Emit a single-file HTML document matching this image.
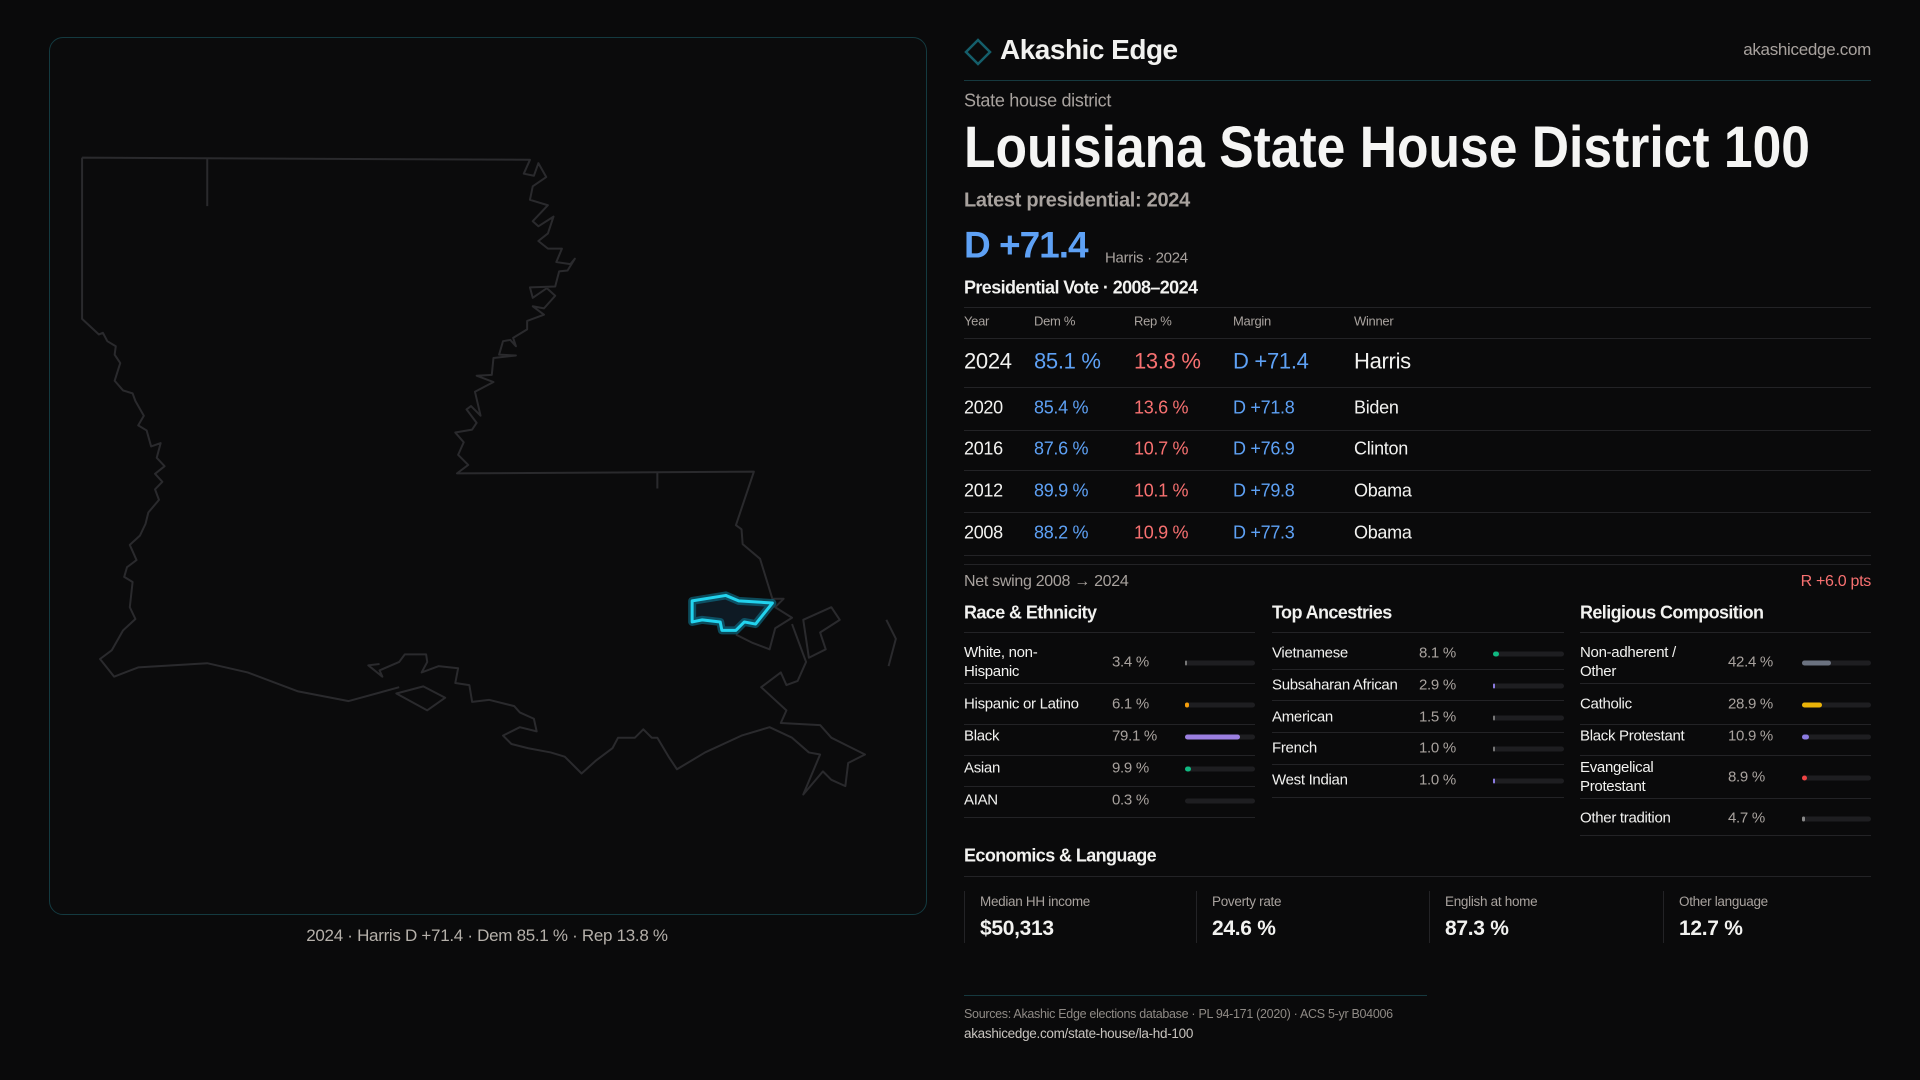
<!DOCTYPE html>
<html><head><meta charset="utf-8"><style>
*{margin:0;padding:0;box-sizing:border-box}
body{width:1920px;height:1080px;background:#0a0a0b;font-family:"Liberation Sans",sans-serif;color:#f2f2f0;position:relative;overflow:hidden}
.t{position:absolute;white-space:nowrap;transform:translateY(-50%);line-height:1.15;letter-spacing:-0.3px}
.l{position:absolute;height:1px;background:#232326}
.g{color:#a8a29e}.b{color:#5ea1f5}.r{color:#f87171}
.trk{position:absolute;height:5px;border-radius:3px;background:#1e1e21;transform:translateY(-50%)}
.trk i{position:absolute;left:0;top:0;height:5px;border-radius:3px;display:block}
.vb{position:absolute;width:1px;background:#232326;top:891px;height:52px}
</style></head><body>
<div style="position:absolute;left:49px;top:37px;width:878px;height:878px;border:1px solid #143a40;border-radius:14px;background:#0b0b0c"></div>
<svg style="position:absolute;left:40px;top:140px" width="880" height="660" viewBox="0 0 1568 1568" preserveAspectRatio="none">
<g fill="none" stroke="#2a2a2d" stroke-width="2" vector-effect="non-scaling-stroke" stroke-linejoin="round">
<path vector-effect="non-scaling-stroke" d="M298,45 L298,157 M1100,790 L1100,828"/>
<path vector-effect="non-scaling-stroke" d="M75,42 L873,47 L862,80 L880,85 L888,55 L902,88 L878,110 L873,142 L905,155 L878,193 L888,205 L915,182 L905,222 L888,240 L905,258 L930,258 L920,290 L945,295 L953,282 L940,310 L925,312 L918,348 L873,350 L878,375 L903,352 L918,370 L898,400 L878,395 L898,415 L868,430 L868,450 L843,470 L848,490 L838,475 L825,478 L818,510 L848,512 L808,518 L805,558 L778,560 L808,575 L775,598 L785,655 L768,632 L760,640 L778,672 L770,688 L740,695 L755,718 L745,748 L763,772 L743,792 L1272,788 L1240,915 L1250,925 L1252,960 L1283,995 L1305,1090 L1325,1090 L1310,1110 L1340,1135 L1310,1160 L1300,1210 L1270,1195 L1240,1175 M1340,1150 L1365,1240 L1350,1285 L1330,1295 L1320,1265 L1285,1300 L1330,1355 L1320,1385 L1390,1390 L1410,1420 L1440,1440 L1470,1460 L1440,1480 L1435,1535 L1410,1520 L1395,1500 L1360,1555 L1390,1460 L1370,1455 L1340,1420 L1300,1395 L1250,1415 L1185,1455 L1135,1495 L1120,1465 L1100,1420 L1090,1420 L1075,1400 L1060,1420 L1030,1420 L1020,1445 L990,1475 L965,1505 L935,1465 L910,1455 L870,1445 L840,1435 L825,1415 L855,1395 L885,1405 L880,1375 L855,1360 L845,1345 L800,1330 L770,1335 L765,1295 L740,1290 L745,1255 L710,1250 L680,1265 L690,1240 L688,1222 L650,1222 L640,1240 L605,1260 L610,1275 L585,1248 L605,1245 M640,1300 L550,1333 L460,1310 L370,1265 L298,1243 L175,1253 L132,1275 L107,1233 L128,1212 L148,1165 L170,1138 L160,1110 L165,1050 L150,1038 L155,1015 L172,998 L160,962 L178,940 L188,912 L193,885 L212,855 L205,830 L218,812 L205,793 L222,775 L208,755 L215,720 L198,728 L190,690 L175,678 L185,655 L170,620 L165,602 L148,595 L133,572 L143,530 L133,510 L135,490 L120,478 L112,458 L105,462 L75,425 L75,42"/>
<path vector-effect="non-scaling-stroke" d="M635,1315 L683,1298 L722,1325 L690,1355 Z M1360,1140 L1410,1110 L1425,1140 L1390,1170 L1400,1210 L1370,1230 Z M1508,1140 L1525,1185 L1512,1250"/>
</g>
<path vector-effect="non-scaling-stroke" d="M1162,1095 L1222,1082 L1245,1095 L1305,1100 L1275,1150 L1255,1145 L1240,1165 L1215,1165 L1212,1145 L1180,1140 L1162,1145 Z" fill="#0e1a24" stroke="#0e7490" stroke-opacity="0.6" stroke-width="8" stroke-linejoin="round"/>
<path vector-effect="non-scaling-stroke" d="M1162,1095 L1222,1082 L1245,1095 L1305,1100 L1275,1150 L1255,1145 L1240,1165 L1215,1165 L1212,1145 L1180,1140 L1162,1145 Z" fill="none" stroke="#22d3ee" stroke-width="3" stroke-linejoin="round"/>
</svg>
<div class="t g" style="left:487px;top:936px;transform:translate(-50%,-50%);font-size:17px;color:#b5b0aa">2024 · Harris D +71.4 · Dem 85.1 % · Rep 13.8 %</div>

<svg style="position:absolute;left:964px;top:38px" width="28" height="28" viewBox="0 0 28 28"><path d="M14,2 L26,14 L14,26 L2,14 Z" fill="none" stroke="#155e6b" stroke-width="2.5"/></svg>
<div class="t" style="left:1000px;top:50px;font-size:28px;font-weight:bold;letter-spacing:-0.5px">Akashic Edge</div>
<div class="t g" style="right:49px;top:50px;font-size:17px">akashicedge.com</div>
<div class="l" style="left:964px;width:907px;top:80px;background:#16393f"></div>
<div class="t g" style="left:964px;top:101px;font-size:18px">State house district</div>
<svg style="position:absolute;left:962px;top:112px" width="900" height="70"><text x="2" y="55" font-family="Liberation Sans" font-weight="bold" font-size="58" fill="#f5f5f4" textLength="846" lengthAdjust="spacingAndGlyphs">Louisiana State House District 100</text></svg>
<div class="t g" style="left:964px;top:201px;font-size:20px;font-weight:bold">Latest presidential: 2024</div>
<div class="t b" style="left:964px;top:246px;font-size:37px;font-weight:bold;letter-spacing:-1px">D +71.4</div>
<div class="t g" style="left:1105px;top:258px;font-size:15px">Harris · 2024</div>
<div class="t" style="left:964px;top:288px;font-size:18px;font-weight:bold;letter-spacing:-0.6px">Presidential Vote · 2008–2024</div>
<div class="l" style="left:964px;width:907px;top:307px"></div>
<div class="t g" style="left:964px;top:322px;font-size:13px">Year</div>
<div class="t g" style="left:1034px;top:322px;font-size:13px">Dem %</div>
<div class="t g" style="left:1134px;top:322px;font-size:13px">Rep %</div>
<div class="t g" style="left:1233px;top:322px;font-size:13px">Margin</div>
<div class="t g" style="left:1354px;top:322px;font-size:13px">Winner</div>
<div class="l" style="left:964px;width:907px;top:338px"></div>
<div class="t" style="left:964px;top:361px;font-size:22px">2024</div><div class="t b" style="left:1034px;top:361px;font-size:22px">85.1 %</div><div class="t r" style="left:1134px;top:361px;font-size:22px">13.8 %</div><div class="t b" style="left:1233px;top:361px;font-size:22px">D +71.4</div><div class="t" style="left:1354px;top:361px;font-size:22px">Harris</div>
<div class="l" style="left:964px;width:907px;top:387px"></div>
<div class="t" style="left:964px;top:408px;font-size:18px">2020</div><div class="t b" style="left:1034px;top:408px;font-size:18px">85.4 %</div><div class="t r" style="left:1134px;top:408px;font-size:18px">13.6 %</div><div class="t b" style="left:1233px;top:408px;font-size:18px">D +71.8</div><div class="t" style="left:1354px;top:408px;font-size:18px">Biden</div>
<div class="l" style="left:964px;width:907px;top:430px"></div>
<div class="t" style="left:964px;top:449px;font-size:18px">2016</div><div class="t b" style="left:1034px;top:449px;font-size:18px">87.6 %</div><div class="t r" style="left:1134px;top:449px;font-size:18px">10.7 %</div><div class="t b" style="left:1233px;top:449px;font-size:18px">D +76.9</div><div class="t" style="left:1354px;top:449px;font-size:18px">Clinton</div>
<div class="l" style="left:964px;width:907px;top:470px"></div>
<div class="t" style="left:964px;top:491px;font-size:18px">2012</div><div class="t b" style="left:1034px;top:491px;font-size:18px">89.9 %</div><div class="t r" style="left:1134px;top:491px;font-size:18px">10.1 %</div><div class="t b" style="left:1233px;top:491px;font-size:18px">D +79.8</div><div class="t" style="left:1354px;top:491px;font-size:18px">Obama</div>
<div class="l" style="left:964px;width:907px;top:512px"></div>
<div class="t" style="left:964px;top:533px;font-size:18px">2008</div><div class="t b" style="left:1034px;top:533px;font-size:18px">88.2 %</div><div class="t r" style="left:1134px;top:533px;font-size:18px">10.9 %</div><div class="t b" style="left:1233px;top:533px;font-size:18px">D +77.3</div><div class="t" style="left:1354px;top:533px;font-size:18px">Obama</div>
<div class="l" style="left:964px;width:907px;top:555px"></div>
<div class="l" style="left:964px;width:907px;top:564px"></div>
<div class="t g" style="left:964px;top:582px;font-size:16px">Net swing 2008 → 2024</div>
<div class="t r" style="right:49px;top:582px;font-size:16px">R +6.0 pts</div>

<div class="t" style="left:964px;top:613px;font-size:18px;font-weight:bold;letter-spacing:-0.6px">Race &amp; Ethnicity</div>
<div class="t" style="left:1272px;top:613px;font-size:18px;font-weight:bold;letter-spacing:-0.6px">Top Ancestries</div>
<div class="t" style="left:1580px;top:613px;font-size:18px;font-weight:bold;letter-spacing:-0.6px">Religious Composition</div>
<div class="l" style="left:964px;width:291px;top:632px"></div>
<div class="l" style="left:1272px;width:292px;top:632px"></div>
<div class="l" style="left:1580px;width:291px;top:632px"></div>

<div class="t" style="left:964px;top:662px;font-size:15px;line-height:19px">White, non-<br>Hispanic</div><div class="t g" style="left:1112px;top:662px;font-size:15px">3.4 %</div><div class="trk" style="left:1185px;width:70px;top:663px"><i style="width:2px;background:#777"></i></div>
<div class="l" style="left:964px;width:291px;top:683px"></div>
<div class="t" style="left:964px;top:704px;font-size:15px">Hispanic or Latino</div><div class="t g" style="left:1112px;top:704px;font-size:15px">6.1 %</div><div class="trk" style="left:1185px;width:70px;top:705px"><i style="width:4px;background:#f59e0b"></i></div>
<div class="l" style="left:964px;width:291px;top:724px"></div>
<div class="t" style="left:964px;top:736px;font-size:15px">Black</div><div class="t g" style="left:1112px;top:736px;font-size:15px">79.1 %</div><div class="trk" style="left:1185px;width:70px;top:737px"><i style="width:55px;background:#9b7fe0"></i></div>
<div class="l" style="left:964px;width:291px;top:755px"></div>
<div class="t" style="left:964px;top:768px;font-size:15px">Asian</div><div class="t g" style="left:1112px;top:768px;font-size:15px">9.9 %</div><div class="trk" style="left:1185px;width:70px;top:769px"><i style="width:6px;background:#10b981"></i></div>
<div class="l" style="left:964px;width:291px;top:786px"></div>
<div class="t" style="left:964px;top:800px;font-size:15px">AIAN</div><div class="t g" style="left:1112px;top:800px;font-size:15px">0.3 %</div><div class="trk" style="left:1185px;width:70px;top:801px"></div>
<div class="l" style="left:964px;width:291px;top:817px"></div>

<div class="t" style="left:1272px;top:653px;font-size:15px">Vietnamese</div><div class="t g" style="left:1419px;top:653px;font-size:15px">8.1 %</div><div class="trk" style="left:1493px;width:71px;top:654px"><i style="width:6px;background:#10b981"></i></div>
<div class="l" style="left:1272px;width:292px;top:669px"></div>
<div class="t" style="left:1272px;top:685px;font-size:15px">Subsaharan African</div><div class="t g" style="left:1419px;top:685px;font-size:15px">2.9 %</div><div class="trk" style="left:1493px;width:71px;top:686px"><i style="width:2px;background:#8b7be0"></i></div>
<div class="l" style="left:1272px;width:292px;top:700px"></div>
<div class="t" style="left:1272px;top:717px;font-size:15px">American</div><div class="t g" style="left:1419px;top:717px;font-size:15px">1.5 %</div><div class="trk" style="left:1493px;width:71px;top:718px"><i style="width:2px;background:#777"></i></div>
<div class="l" style="left:1272px;width:292px;top:732px"></div>
<div class="t" style="left:1272px;top:748px;font-size:15px">French</div><div class="t g" style="left:1419px;top:748px;font-size:15px">1.0 %</div><div class="trk" style="left:1493px;width:71px;top:749px"><i style="width:2px;background:#777"></i></div>
<div class="l" style="left:1272px;width:292px;top:764px"></div>
<div class="t" style="left:1272px;top:780px;font-size:15px">West Indian</div><div class="t g" style="left:1419px;top:780px;font-size:15px">1.0 %</div><div class="trk" style="left:1493px;width:71px;top:781px"><i style="width:2px;background:#8b7be0"></i></div>
<div class="l" style="left:1272px;width:292px;top:797px"></div>

<div class="t" style="left:1580px;top:662px;font-size:15px;line-height:19px">Non-adherent /<br>Other</div><div class="t g" style="left:1728px;top:662px;font-size:15px">42.4 %</div><div class="trk" style="left:1802px;width:69px;top:663px"><i style="width:29px;background:#6b7280"></i></div>
<div class="l" style="left:1580px;width:291px;top:683px"></div>
<div class="t" style="left:1580px;top:704px;font-size:15px">Catholic</div><div class="t g" style="left:1728px;top:704px;font-size:15px">28.9 %</div><div class="trk" style="left:1802px;width:69px;top:705px"><i style="width:20px;background:#eab308"></i></div>
<div class="l" style="left:1580px;width:291px;top:724px"></div>
<div class="t" style="left:1580px;top:736px;font-size:15px">Black Protestant</div><div class="t g" style="left:1728px;top:736px;font-size:15px">10.9 %</div><div class="trk" style="left:1802px;width:69px;top:737px"><i style="width:7px;background:#8b7be0"></i></div>
<div class="l" style="left:1580px;width:291px;top:755px"></div>
<div class="t" style="left:1580px;top:777px;font-size:15px;line-height:19px">Evangelical<br>Protestant</div><div class="t g" style="left:1728px;top:777px;font-size:15px">8.9 %</div><div class="trk" style="left:1802px;width:69px;top:778px"><i style="width:5px;background:#ef4444"></i></div>
<div class="l" style="left:1580px;width:291px;top:798px"></div>
<div class="t" style="left:1580px;top:818px;font-size:15px">Other tradition</div><div class="t g" style="left:1728px;top:818px;font-size:15px">4.7 %</div><div class="trk" style="left:1802px;width:69px;top:819px"><i style="width:3px;background:#888"></i></div>
<div class="l" style="left:1580px;width:291px;top:835px"></div>

<div class="t" style="left:964px;top:856px;font-size:18px;font-weight:bold;letter-spacing:-0.6px">Economics &amp; Language</div>
<div class="l" style="left:964px;width:907px;top:876px"></div>
<div class="vb" style="left:964px"></div><div class="vb" style="left:1196px"></div><div class="vb" style="left:1429px"></div><div class="vb" style="left:1663px"></div>
<div class="t g" style="left:980px;top:902px;font-size:13.5px">Median HH income</div><div class="t" style="left:980px;top:929px;font-size:21px;font-weight:bold">$50,313</div>
<div class="t g" style="left:1212px;top:902px;font-size:13.5px">Poverty rate</div><div class="t" style="left:1212px;top:929px;font-size:21px;font-weight:bold">24.6 %</div>
<div class="t g" style="left:1445px;top:902px;font-size:13.5px">English at home</div><div class="t" style="left:1445px;top:929px;font-size:21px;font-weight:bold">87.3 %</div>
<div class="t g" style="left:1679px;top:902px;font-size:13.5px">Other language</div><div class="t" style="left:1679px;top:929px;font-size:21px;font-weight:bold">12.7 %</div>

<div class="l" style="left:964px;width:463px;top:995px;background:#16393f"></div>
<div class="t g" style="left:964px;top:1014px;font-size:12.5px;color:#8f8a85">Sources: Akashic Edge elections database · PL 94-171 (2020) · ACS 5-yr B04006</div>
<div class="t" style="left:964px;top:1034px;font-size:13.5px;color:#c8c4bf">akashicedge.com/state-house/la-hd-100</div>
</body></html>
